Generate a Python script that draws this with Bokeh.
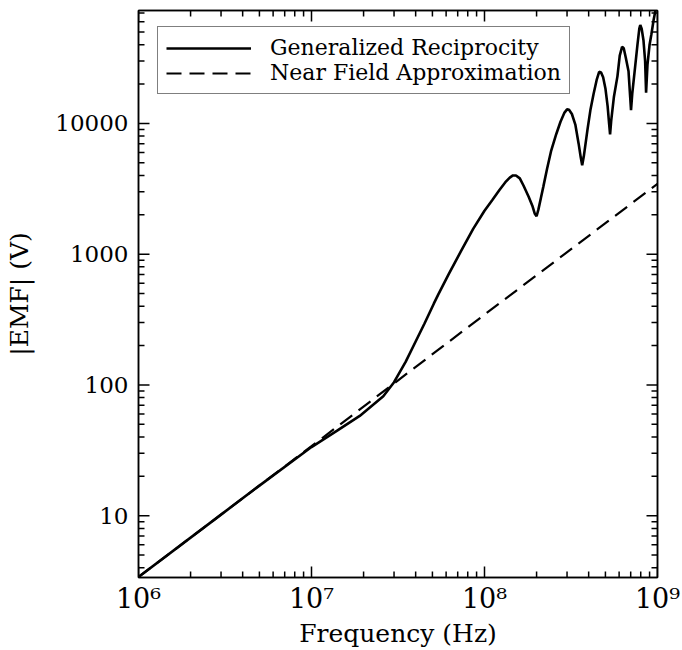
from bokeh.plotting import figure
from bokeh.models import LogAxis, Legend, LegendItem, LogTicker, Range1d
from bokeh.embed import file_html
from bokeh.resources import INLINE

# ---- data ----
freq_gr = [1e6, 3e6, 5e6, 1e7, 1.4e7, 1.9e7, 2.6e7, 3.0e7, 3.5e7, 4.0e7,
           4.5e7, 5.1e7, 5.4e7, 6.2e7, 6.8e7, 7.3e7, 8.6e7, 1.0e8, 1.11e8,
           1.22e8, 1.32e8, 1.4e8, 1.46e8, 1.52e8, 1.6e8, 1.68e8, 1.8e8,
           1.89e8, 1.95e8, 2.0e8, 2.05e8, 2.12e8, 2.19e8, 2.3e8, 2.43e8,
           2.6e8, 2.75e8, 2.9e8, 3.0e8, 3.08e8, 3.2e8, 3.35e8, 3.5e8, 3.6e8,
           3.67e8, 3.75e8, 3.94e8, 4.1e8, 4.27e8, 4.45e8, 4.6e8, 4.72e8,
           4.85e8, 5.0e8, 5.15e8, 5.25e8, 5.32e8, 5.4e8, 5.6e8, 5.87e8,
           6.05e8, 6.24e8, 6.38e8, 6.55e8, 6.8e8, 6.95e8, 7.03e8, 7.15e8,
           7.4e8, 7.66e8, 7.85e8, 7.95e8, 8.1e8, 8.3e8, 8.48e8, 8.59e8,
           8.75e8, 9.0e8, 9.22e8, 9.5e8, 9.73e8, 1.0e9]
emf_gr = [3.4, 10.2, 17.0, 33.5, 44.5, 58, 82, 105, 150, 215,
          295, 420, 490, 700, 880, 1050, 1560, 2150, 2600,
          3100, 3550, 3850, 4000, 4000, 3800, 3350, 2750,
          2350, 2050, 1950, 2200, 2700, 3300, 4500, 6200,
          8300, 10300, 12100, 12800, 12700, 11800, 9800, 7000, 5500,
          4780, 5600, 9000, 12800, 16800, 21500, 24800, 24500,
          22500, 18500, 13500, 10000, 8240, 10500, 16000, 23000,
          33000, 38500, 37500, 32000, 25000, 16000, 12600, 17000,
          26000, 40000, 53000, 56500, 53000, 43000, 30000, 17200,
          28000, 40000, 48000, 62000, 73000, 90000]

freq_nf = [1e6, 1e7, 1e8, 1e9]
emf_nf = [3.4, 34, 345, 3450]

x_ticks = [1e6, 1e7, 1e8, 1e9]
x_tick_labels = ["10\u2076", "10\u2077", "10\u2078", "10\u2079"]
y_ticks = [10, 100, 1000, 10000]
y_tick_labels = ["10", "100", "1000", "10000"]

x_limits = (1e6, 1e9)
y_limits = (3.37, 73000)

FONT = "DejaVu Serif"
W, H = 682, 650
BL, BR, BT, BB = 138, 25, 10, 71

p = figure(width=W, height=H, x_axis_type="log", y_axis_type="log",
           x_range=Range1d(*x_limits), y_range=Range1d(*y_limits),
           output_backend="svg", toolbar_location=None,
           min_border_left=BL, min_border_right=BR, min_border_top=BT,
           min_border_bottom=BB)
p.background_fill_color = "white"
p.border_fill_color = "white"
p.xgrid.visible = False
p.ygrid.visible = False
p.outline_line_color = "black"
p.outline_line_width = 1.5

# ---- inward tick marks (IDL style) on all four sides ----
import math
px_per_dec_x = (W - BL - BR) / math.log10(x_limits[1] / x_limits[0])
px_per_dec_y = (H - BT - BB) / math.log10(y_limits[1] / y_limits[0])
MAJ, MIN = 11, 6


def minors(majors):
    lo = [majors[0] / 10] + list(majors)
    return [m * d for d in lo for m in range(2, 10)]


def x_tick_segments(vals, length):
    f = 10 ** (length / px_per_dec_y)
    xs = [v for v in vals if x_limits[0] <= v <= x_limits[1]]
    p.segment(x0=xs, x1=xs, y0=[y_limits[0]] * len(xs), y1=[y_limits[0] * f] * len(xs),
              line_color="black", line_width=1.5)
    p.segment(x0=xs, x1=xs, y0=[y_limits[1]] * len(xs), y1=[y_limits[1] / f] * len(xs),
              line_color="black", line_width=1.5)


def y_tick_segments(vals, length):
    f = 10 ** (length / px_per_dec_x)
    ys = [v for v in vals if y_limits[0] <= v <= y_limits[1]]
    p.segment(y0=ys, y1=ys, x0=[x_limits[0]] * len(ys), x1=[x_limits[0] * f] * len(ys),
              line_color="black", line_width=1.5)
    p.segment(y0=ys, y1=ys, x0=[x_limits[1]] * len(ys), x1=[x_limits[1] / f] * len(ys),
              line_color="black", line_width=1.5)


x_tick_segments(x_ticks, MAJ)
x_tick_segments(minors(x_ticks), MIN)
y_tick_segments(y_ticks, MAJ)
y_tick_segments(minors(y_ticks), MIN)

r_gr = p.line(freq_gr, emf_gr, line_color="black", line_width=2.6)
r_nf = p.line(freq_nf, emf_nf, line_color="black", line_width=2.2,
              line_dash="15 8")


def style_axis(ax, show_labels):
    ax.ticker = LogTicker(num_minor_ticks=10, desired_num_ticks=4)
    ax.axis_line_color = "black"
    ax.axis_line_width = 1.5
    ax.major_tick_in = 0
    ax.major_tick_out = 0
    ax.minor_tick_in = 0
    ax.minor_tick_out = 0
    ax.major_tick_line_color = None
    ax.minor_tick_line_color = None
    ax.major_label_text_font = FONT
    ax.major_label_text_color = "black"
    if not show_labels:
        ax.major_label_text_font_size = "0px"
        ax.major_label_standoff = 0
        ax.major_label_text_color = None


xa = p.xaxis[0]
ya = p.yaxis[0]
style_axis(xa, True)
style_axis(ya, True)
xa.major_label_overrides = {t: s for t, s in zip(x_ticks, x_tick_labels)}
ya.major_label_overrides = {t: s for t, s in zip(y_ticks, y_tick_labels)}
xa.major_label_text_font_size = "27px"
ya.major_label_text_font_size = "23px"
xa.major_label_standoff = 5
ya.major_label_standoff = 10
xa.axis_label = "Frequency (Hz)"
ya.axis_label = "|EMF| (V)"
for ax in (xa, ya):
    ax.axis_label_text_font = FONT
    ax.axis_label_text_font_style = "normal"
    ax.axis_label_text_font_size = "25px"
    ax.axis_label_text_color = "black"
xa.axis_label_standoff = 2
ya.axis_label_standoff = 18

ra = LogAxis()
style_axis(ra, False)
p.add_layout(ra, "right")
ta = LogAxis()
style_axis(ta, False)
p.add_layout(ta, "above")

legend = Legend(items=[LegendItem(label="Generalized Reciprocity", renderers=[r_gr]),
                       LegendItem(label="Near Field Approximation", renderers=[r_nf])],
                location=(19, 483))
legend.label_text_font = FONT
legend.label_text_font_size = "22px"
legend.label_text_color = "black"
legend.glyph_width = 85
legend.glyph_height = 24
legend.label_height = 24
legend.label_standoff = 19
legend.spacing = 0
legend.padding = 8
legend.margin = 0
legend.border_line_color = "black"
legend.border_line_width = 1.5
legend.background_fill_color = "white"
legend.background_fill_alpha = 1.0
p.add_layout(legend, "center")

open("out.html", "w").write(file_html(p, INLINE))
